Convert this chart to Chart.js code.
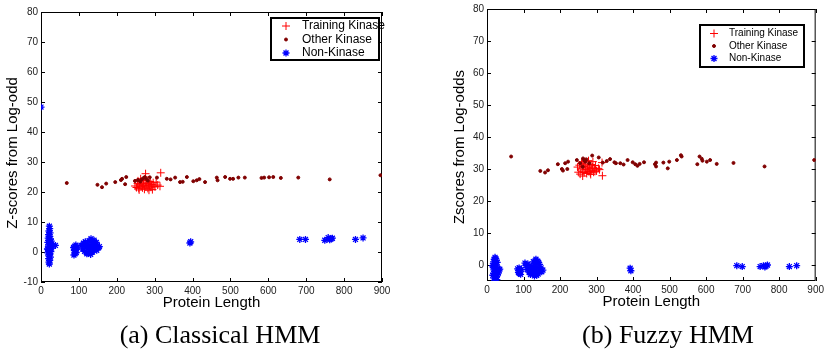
<!DOCTYPE html>
<html>
<head>
<meta charset="utf-8">
<script src="https://cdn.jsdelivr.net/npm/chart.js@4.4.1/dist/chart.umd.min.js"></script>
<style>
  html, body { margin: 0; padding: 0; background: #fff; }
  #wrap { position: relative; width: 827px; height: 350px; overflow: hidden; }
  canvas { position: absolute; top: 0; }
  #left { left: 0; }
  #right { left: 410px; }
</style>
</head>
<body>
<div id="wrap">
  <canvas id="left" width="410" height="350"></canvas>
  <canvas id="right" width="417" height="350"></canvas>
</div>
<script>
// ---- data ----
const seriesNames = ["Training Kinase", "Other Kinase", "Non-Kinase"];
const xTicks = [0, 100, 200, 300, 400, 500, 600, 700, 800, 900];
const classicalYTicks = [-10, 0, 10, 20, 30, 40, 50, 60, 70, 80];
const fuzzyYTicks = [0, 10, 20, 30, 40, 50, 60, 70, 80];

// (a) Classical HMM
const classicalTraining = [
  [248,22.0],[252,21.5],[255,22.8],[258,21.2],[260,22.4],[262,23.4],[264,21.8],[266,22.9],
  [268,21.4],[270,23.8],[271,22.2],[273,20.9],[275,23.0],[276,26.1],[277,21.7],[279,22.6],
  [280,24.0],[282,21.2],[284,22.9],[286,22.1],[288,23.5],[290,21.6],[292,22.5],[294,20.8],
  [296,23.1],[298,21.9],[301,21.7],[304,23.3],[308,22.3],[314,21.9],[316,26.4],[256,23.7],
  [263,24.4],[285,20.6],[259,20.7]
];
const classicalOther = [
  [68,23.0],[149,22.4],[161,21.6],[172,22.8],[196,23.3],[211,24.0],[214,24.4],[222,22.6],
  [225,25.0],[248,23.7],[256,24.0],[262,23.5],[266,24.2],[270,24.6],[274,25.0],[278,24.4],
  [282,23.8],[287,24.9],[306,24.8],[332,24.4],[342,24.2],[354,24.8],[367,23.3],[374,23.4],
  [385,25.0],[402,23.6],[411,23.9],[418,24.3],[433,23.3],[464,24.8],[466,23.9],[486,25.0],
  [499,24.4],[507,24.4],[521,24.8],[538,24.8],[582,24.7],[589,24.8],[602,24.9],[613,25.0],
  [633,24.7],[679,24.8],[762,24.2],[896,25.6]
];
const classicalNon = [
  [0,48.3],
  [22,8.6],[23,7.8],[21,7.0],[24,6.4],[20,5.8],[23,5.2],[19,4.6],[25,4.4],[21,3.9],[27,3.6],
  [18,3.2],[23,2.8],[26,2.4],[20,2.0],[24,1.6],[28,1.3],[19,0.9],[22,0.5],[26,0.1],[18,-0.3],
  [23,-0.8],[21,-1.3],[25,-1.7],[20,-2.2],[23,-2.8],[21,-3.4],[22,-4.0],[24,3.0],[17,1.0],
  [29,2.0],[38,2.2],[33,2.3],
  [86,1.5],[88,0.5],[90,-0.6],[92,2.3],[94,1.0],[89,1.9],[93,-0.2],[87,-1.0],[91,0.8],[95,1.6],
  [106,2.2],[110,1.0],[112,2.9],[115,0.2],[117,3.4],[119,1.8],[121,-0.6],[123,2.6],[125,1.2],
  [127,3.8],[129,0.4],[130,2.2],[132,4.4],[133,1.5],[135,3.1],[136,0.0],[138,2.4],[140,3.9],
  [141,1.1],[143,2.8],[145,1.6],[147,0.6],[149,2.0],[152,1.4],[154,1.8],[124,-0.3],[131,-0.8],
  [139,0.7],[146,3.2],[118,2.6],
  [393,3.0],[395,3.4],[683,4.2],[698,4.2],[749,3.9],[758,4.8],[762,4.1],[766,4.4],[769,4.6],
  [830,4.2],[850,4.7]
];

// (b) Fuzzy HMM
const fuzzyTraining = [
  [248,30.6],[250,29.0],[253,31.2],[255,28.4],[257,30.0],[259,31.8],[261,29.3],[262,27.8],
  [264,30.8],[266,28.9],[268,31.5],[270,29.8],[271,32.3],[273,28.6],[275,30.4],[277,31.0],
  [279,29.2],[281,30.1],[283,28.8],[285,31.4],[287,29.6],[289,30.6],[290,32.3],[292,29.0],
  [294,30.2],[297,31.1],[300,29.4],[305,30.2],[308,29.8],[315,32.0],[316,27.9],[260,32.2],
  [278,32.6],[284,28.3],[296,29.3]
];
const fuzzyOther = [
  [66,33.9],[146,29.4],[159,28.9],[167,29.6],[194,31.5],[205,30.0],[208,29.5],[214,31.8],
  [220,30.0],[222,32.3],[246,32.8],[255,31.8],[263,33.3],[266,32.8],[269,32.3],[272,33.0],
  [262,30.7],[280,31.8],[288,34.2],[306,33.6],[317,32.0],[328,32.5],[337,33.1],[349,32.1],
  [353,31.8],[365,31.8],[374,31.4],[385,32.8],[399,32.1],[406,31.5],[412,31.0],[418,31.6],
  [430,32.1],[460,31.5],[463,32.0],[463,30.8],[483,32.0],[495,30.2],[499,32.3],[520,32.8],
  [531,34.3],[533,33.9],[576,31.5],[582,33.9],[588,33.2],[590,32.6],[602,32.3],[611,32.8],
  [629,31.6],[675,31.9],[760,30.8],[896,32.8]
];
const fuzzyNon = [
  [22,2.4],[20,1.8],[25,1.5],[18,1.0],[23,0.6],[28,0.8],[21,0.1],[26,-0.3],[17,-0.6],[24,-0.9],
  [30,-1.1],[19,-1.5],[22,-1.9],[27,-2.1],[33,-1.6],[18,-2.6],[24,-2.9],[29,-3.0],[21,-3.4],
  [26,-3.8],[19,-4.1],[23,-4.5],[27,-4.6],[21,-5.0],[25,-5.1],[16,-3.2],[31,-2.5],[35,-1.3],
  [15,-0.2],[24,2.0],
  [84,-1.2],[86,-2.4],[88,-0.9],[90,-1.8],[92,-2.9],[94,-1.4],[89,-2.6],[87,-1.6],
  [104,0.6],[107,-0.2],[110,-1.4],[112,0.3],[115,-2.2],[117,-0.8],[119,-3.0],[121,-1.6],
  [123,-0.3],[125,-2.5],[127,1.0],[129,-1.1],[130,-3.4],[132,0.4],[134,1.8],[135,-2.0],
  [137,-0.6],[139,1.2],[140,-2.8],[142,-1.3],[144,0.2],[146,-1.9],[148,-0.9],[150,-2.1],
  [153,-1.6],[118,-1.9],[126,-1.0],[136,-3.2],[141,0.8],[131,-2.2],
  [392,-1.0],[394,-1.8],[684,-0.2],[699,-0.5],[748,-0.5],[757,-0.2],[761,-0.6],[764,-0.3],
  [768,0.0],[828,-0.5],[848,-0.2]
];

const SANS = "'Liberation Sans', Arial, sans-serif";
const SERIF = "'Liberation Serif', 'Times New Roman', serif";

const toPoints = (arr) => arr.map(([x, y]) => ({ x, y }));

// frame, inner tick marks, y title, in-plot legend and caption
const matlabLook = {
  id: "matlabLook",
  beforeDatasetsDraw(chart) {
    const { ctx, chartArea: a, scales: { x, y } } = chart;
    ctx.save();
    ctx.strokeStyle = "#000";
    ctx.lineWidth = 1;
    ctx.strokeRect(a.left + 0.5, a.top + 0.5, a.right - a.left - 1, a.bottom - a.top - 1);
    ctx.beginPath();
    x.ticks.forEach((t) => {
      const px = Math.round(x.getPixelForValue(t.value)) + 0.5;
      ctx.moveTo(px, a.bottom); ctx.lineTo(px, a.bottom - 4);
      ctx.moveTo(px, a.top); ctx.lineTo(px, a.top + 4);
    });
    y.ticks.forEach((t) => {
      const py = Math.round(y.getPixelForValue(t.value)) + 0.5;
      ctx.moveTo(a.left, py); ctx.lineTo(a.left + 4, py);
      ctx.moveTo(a.right, py); ctx.lineTo(a.right - 4, py);
    });
    ctx.stroke();
    ctx.restore();
  },
  afterDraw(chart, args, opts) {
    const { ctx } = chart;
    ctx.save();
    // y axis title
    ctx.translate(opts.yTitlePos[0], opts.yTitlePos[1]);
    ctx.rotate(-Math.PI / 2);
    ctx.font = "15px " + SANS;
    ctx.fillStyle = "#000";
    ctx.textAlign = "center";
    ctx.textBaseline = "middle";
    ctx.fillText(opts.yTitle, 0, 0);
    ctx.setTransform(1, 0, 0, 1, 0, 0);

    const [bx, by, bw, bh] = opts.box;
    ctx.fillStyle = "#fff";
    ctx.fillRect(bx, by, bw, bh);
    ctx.strokeStyle = "#000";
    ctx.lineWidth = 2;
    ctx.strokeRect(bx, by, bw, bh);
    chart.data.datasets.forEach((ds, i) => {
      const yy = opts.rows[i];
      ctx.fillStyle = ds.backgroundColor;
      ctx.strokeStyle = ds.borderColor;
      ctx.lineWidth = ds.borderWidth;
      Chart.helpers.drawPoint(ctx, {
        pointStyle: ds.pointStyle, radius: ds.pointRadius, rotation: 0, borderWidth: ds.borderWidth
      }, opts.markerX, yy);
      ctx.fillStyle = "#000";
      ctx.font = opts.fontSize + "px " + SANS;
      ctx.textAlign = "left";
      ctx.textBaseline = "middle";
      ctx.fillText(ds.label, opts.textX, yy);
    });
    ctx.font = "26px " + SERIF;
    ctx.fillStyle = "#000";
    ctx.textAlign = "center";
    ctx.textBaseline = "alphabetic";
    ctx.fillText(opts.caption, opts.captionX, 343);
    ctx.restore();
  }
};

function makeChart(id, training, other, non, yMin, yTicks, yWidth, padding, look) {
  return new Chart(document.getElementById(id), {
    type: "scatter",
    data: {
      datasets: [
        { label: seriesNames[0], data: toPoints(training), pointStyle: "cross", pointRadius: 4,
          borderColor: "#ff0000", backgroundColor: "#ff0000", borderWidth: 1, order: 2 },
        { label: seriesNames[1], data: toPoints(other), pointStyle: "circle", pointRadius: 1.5,
          borderColor: "#800000", backgroundColor: "#800000", borderWidth: 1, order: 1 },
        { label: seriesNames[2], data: toPoints(non), pointStyle: "star", pointRadius: 3.5,
          borderColor: "#0000ff", backgroundColor: "#0000ff", borderWidth: 1.3, order: 3 }
      ]
    },
    options: {
      responsive: false,
      animation: false,
      devicePixelRatio: 1,
      layout: { padding },
      plugins: { legend: { display: false }, tooltip: { enabled: false }, matlabLook: look },
      scales: {
        x: {
          type: "linear", min: 0, max: 900,
          afterBuildTicks: (s) => { s.ticks = xTicks.map((v) => ({ value: v })); },
          afterFit: (s) => { s.height = 30; },
          grid: { display: false, drawTicks: false },
          border: { display: false },
          ticks: { font: { family: SANS, size: 10 }, color: "#222", padding: 3, maxRotation: 0, autoSkip: false },
          title: { display: true, text: "Protein Length", font: { family: SANS, size: 15 }, color: "#000", padding: 0 }
        },
        y: {
          type: "linear", min: yMin, max: 80,
          afterBuildTicks: (s) => { s.ticks = yTicks.map((v) => ({ value: v })); },
          afterFit: (s) => { s.width = yWidth; },
          grid: { display: false, drawTicks: false },
          border: { display: false },
          ticks: { font: { family: SANS, size: 10 }, color: "#222", padding: 3, autoSkip: false }
        }
      }
    },
    plugins: [matlabLook]
  });
}

makeChart("left", classicalTraining, classicalOther, classicalNon, -10, classicalYTicks,
  37, { left: 4, top: 12, right: 28, bottom: 38 },
  { yTitle: "Z-scores from Log-odd", yTitlePos: [13, 153],
    box: [271, 18, 108, 42], rows: [26, 39.5, 53], markerX: 286, textX: 302, fontSize: 12,
    caption: "(a) Classical HMM", captionX: 220 });

makeChart("right", fuzzyTraining, fuzzyOther, fuzzyNon, -5, fuzzyYTicks,
  36, { left: 41, top: 9, right: 11, bottom: 39 },
  { yTitle: "Zscores from Log-odds", yTitlePos: [50, 147],
    box: [290, 25, 104, 42], rows: [33.5, 46, 58.5], markerX: 304, textX: 319, fontSize: 10,
    caption: "(b) Fuzzy HMM", captionX: 258 });
</script>
</body>
</html>
